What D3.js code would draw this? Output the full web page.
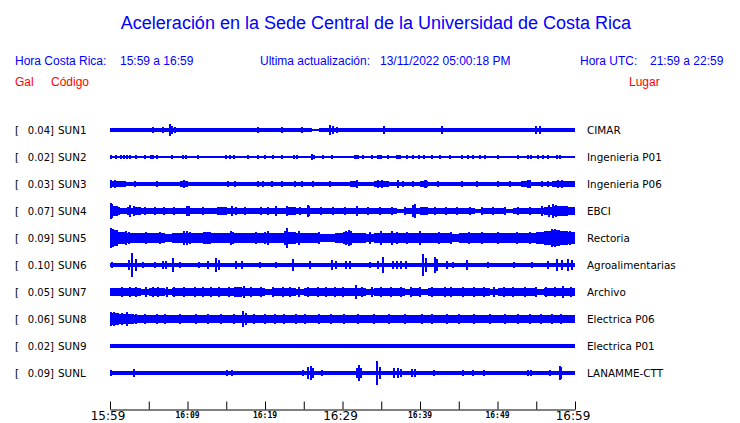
<!DOCTYPE html>
<html><head><meta charset="utf-8">
<script src="https://cdn.jsdelivr.net/npm/d3@7"></script>
<style>body{margin:0;background:#fff}svg{display:block}</style>
</head><body>
<script>
// ---------- DATA ----------
const codes  = ["SUN1","SUN2","SUN3","SUN4","SUN5","SUN6","SUN7","SUN8","SUN9","SUNL"];
const places = ["CIMAR","Ingenieria P01","Ingenieria P06","EBCI","Rectoria","Agroalimentarias","Archivo","Electrica P06","Electrica P01","LANAMME-CTT"];
const peaks  = ["0.04","0.02","0.03","0.07","0.09","0.10","0.05","0.06","0.02","0.09"];
const tickLabels = ["15:59","16:09","16:19","16:29","16:39","16:49","16:59"];

// per-minute envelope of the continuous band (Gal, half amplitude), 60 bins
const envSUN1 = [0.016,0.014,0.014,0.014,0.014,0.014,0.015,0.015,0.016,0.014,0.014,0.014,0.014,0.014,0.014,0.014,0.014,0.013,0.014,0.014,0.014,0.014,0.014,0.014,0.014,0.014,0.012,0.014,0.015,0.014,0.014,0.014,0.014,0.014,0.014,0.014,0.014,0.014,0.014,0.014,0.014,0.014,0.014,0.014,0.014,0.014,0.014,0.014,0.015,0.015,0.015,0.015,0.015,0.015,0.016,0.016,0.016,0.016,0.016,0.016];
const envSUN2 = [0.006,0.005,0.005,0.005,0.005,0.005,0.005,0.005,0.005,0.005,0.005,0.005,0.005,0.005,0.005,0.005,0.005,0.005,0.005,0.005,0.005,0.005,0.005,0.005,0.005,0.005,0.005,0.005,0.005,0.005,0.005,0.005,0.005,0.005,0.005,0.005,0.005,0.005,0.005,0.005,0.005,0.005,0.005,0.005,0.005,0.005,0.005,0.005,0.005,0.005,0.005,0.005,0.005,0.005,0.005,0.005,0.005,0.005,0.005,0.005];
const envSUN3 = [0.026,0.021,0.02,0.02,0.02,0.02,0.02,0.02,0.02,0.021,0.02,0.02,0.02,0.02,0.02,0.02,0.02,0.02,0.02,0.02,0.02,0.02,0.02,0.02,0.02,0.02,0.02,0.02,0.02,0.02,0.02,0.021,0.02,0.02,0.021,0.021,0.02,0.02,0.02,0.02,0.021,0.02,0.02,0.02,0.02,0.02,0.02,0.02,0.02,0.02,0.02,0.02,0.02,0.021,0.02,0.02,0.02,0.022,0.021,0.021];
const envSUN4 = [0.04,0.028,0.022,0.03,0.025,0.026,0.024,0.022,0.025,0.022,0.026,0.024,0.022,0.028,0.03,0.026,0.024,0.022,0.025,0.026,0.022,0.024,0.025,0.03,0.024,0.026,0.022,0.024,0.022,0.026,0.025,0.024,0.022,0.026,0.022,0.024,0.022,0.02,0.025,0.028,0.03,0.024,0.022,0.026,0.022,0.024,0.022,0.02,0.022,0.024,0.022,0.02,0.022,0.022,0.024,0.025,0.035,0.045,0.04,0.03];
const envSUN5 = [0.065,0.05,0.042,0.04,0.038,0.042,0.04,0.036,0.04,0.038,0.045,0.04,0.048,0.04,0.042,0.045,0.04,0.038,0.04,0.042,0.04,0.038,0.045,0.05,0.042,0.04,0.038,0.036,0.035,0.038,0.05,0.04,0.038,0.036,0.04,0.042,0.045,0.04,0.042,0.04,0.04,0.04,0.038,0.04,0.036,0.04,0.04,0.038,0.04,0.042,0.04,0.04,0.042,0.04,0.045,0.05,0.06,0.065,0.055,0.05];
const envSUN6 = [0.016,0.015,0.016,0.018,0.015,0.015,0.015,0.016,0.016,0.015,0.015,0.015,0.016,0.016,0.015,0.015,0.016,0.015,0.015,0.015,0.015,0.015,0.015,0.016,0.015,0.015,0.015,0.015,0.016,0.017,0.015,0.015,0.015,0.015,0.016,0.016,0.016,0.015,0.015,0.015,0.016,0.017,0.016,0.015,0.015,0.015,0.015,0.015,0.015,0.015,0.015,0.015,0.015,0.015,0.015,0.015,0.016,0.017,0.016,0.017];
const envSUN7 = [0.03,0.03,0.035,0.03,0.028,0.035,0.03,0.028,0.03,0.032,0.03,0.035,0.03,0.032,0.03,0.035,0.038,0.035,0.03,0.03,0.028,0.032,0.035,0.03,0.028,0.03,0.032,0.035,0.03,0.032,0.035,0.032,0.03,0.028,0.03,0.032,0.03,0.03,0.028,0.03,0.028,0.03,0.035,0.03,0.032,0.03,0.035,0.032,0.03,0.028,0.03,0.032,0.03,0.035,0.03,0.028,0.03,0.032,0.035,0.03];
const envSUN8 = [0.048,0.042,0.04,0.036,0.032,0.03,0.032,0.03,0.03,0.032,0.03,0.03,0.03,0.032,0.03,0.03,0.03,0.032,0.03,0.03,0.03,0.031,0.03,0.03,0.03,0.03,0.03,0.032,0.03,0.03,0.03,0.03,0.031,0.03,0.03,0.032,0.03,0.03,0.031,0.03,0.032,0.03,0.032,0.03,0.032,0.03,0.03,0.031,0.03,0.03,0.03,0.031,0.032,0.032,0.032,0.032,0.033,0.034,0.034,0.034];
const envSUN9 = [0.015,0.015,0.015,0.015,0.014,0.015,0.014,0.015,0.015,0.015,0.014,0.015,0.015,0.015,0.015,0.015,0.014,0.015,0.015,0.015,0.015,0.015,0.014,0.015,0.015,0.014,0.015,0.015,0.015,0.015,0.014,0.015,0.015,0.015,0.015,0.015,0.015,0.014,0.015,0.015,0.015,0.015,0.014,0.015,0.015,0.015,0.015,0.015,0.015,0.014,0.015,0.015,0.015,0.015,0.015,0.015,0.015,0.014,0.015,0.015];
const envSUNL = [0.015,0.014,0.014,0.014,0.014,0.014,0.014,0.014,0.014,0.014,0.014,0.014,0.014,0.014,0.014,0.014,0.014,0.014,0.014,0.014,0.014,0.014,0.014,0.014,0.014,0.015,0.015,0.014,0.014,0.014,0.014,0.014,0.015,0.014,0.015,0.014,0.014,0.015,0.014,0.015,0.014,0.014,0.014,0.014,0.014,0.014,0.014,0.014,0.014,0.014,0.014,0.014,0.014,0.014,0.014,0.014,0.014,0.014,0.015,0.015];

// bursts: [minute after 15:59, half amplitude in Gal]
const spkSUN1 = [[5.5,0.022],[6.2,0.02],[6.8,0.022],[7.2,0.02],[7.7,0.048],[8.0,0.032],[8.4,0.025],[11.4,0.02],[13.3,0.02],[15.6,0.02],[19.1,0.026],[22.2,0.026],[24.8,0.026],[28.4,0.045],[28.8,0.03],[29.3,0.026],[35.4,0.035],[42.8,0.035],[48.8,0.02],[49.7,0.02],[50.6,0.02],[54.2,0.02],[55.0,0.03],[55.5,0.03]];
const spkSUN2 = [[0.1,0.015],[0.8,0.015],[1.4,0.015],[1.8,0.015],[2.2,0.015],[2.6,0.015],[3.4,0.015],[4.5,0.015],[5.3,0.015],[5.5,0.015],[6.1,0.015],[8.0,0.015],[9.4,0.015],[9.8,0.015],[11.4,0.015],[15.0,0.015],[15.5,0.015],[16.0,0.015],[17.8,0.015],[19.1,0.015],[20.0,0.015],[21.0,0.015],[22.2,0.015],[23.7,0.015],[24.1,0.015],[26.1,0.025],[26.3,0.02],[27.5,0.015],[28.6,0.015],[31.6,0.02],[31.8,0.02],[32.0,0.02],[32.6,0.015],[33.8,0.015],[34.6,0.02],[34.8,0.02],[35.0,0.02],[35.9,0.015],[37.0,0.02],[37.2,0.02],[37.4,0.02],[38.3,0.015],[39.1,0.015],[39.9,0.015],[40.5,0.015],[41.5,0.015],[42.6,0.015],[43.9,0.015],[45.4,0.015],[46.2,0.015],[46.8,0.015],[47.7,0.015],[48.4,0.015],[50.1,0.015],[52.6,0.015],[53.9,0.02],[54.3,0.02],[55.2,0.015],[55.9,0.015],[56.5,0.015],[57.7,0.015],[58.1,0.015]];
const spkSUN3 = [[0.1,0.035],[0.6,0.03],[1.2,0.028],[3.2,0.026],[6.1,0.026],[9.5,0.03],[9.8,0.028],[15.2,0.026],[16.1,0.026],[19.1,0.026],[19.7,0.026],[20.9,0.026],[22.2,0.026],[23.9,0.026],[24.8,0.026],[26.2,0.026],[28.4,0.026],[31.9,0.032],[34.6,0.032],[35.1,0.03],[35.9,0.026],[37.1,0.03],[37.8,0.026],[39.1,0.026],[40.6,0.03],[40.8,0.03],[42.3,0.026],[45.4,0.026],[47.4,0.026],[50.1,0.026],[51.6,0.026],[53.9,0.03],[54.2,0.03],[55.7,0.026],[56.5,0.026],[57.8,0.035],[58.3,0.035]];
const spkSUN4 = [[0.1,0.07],[0.3,0.06],[0.6,0.045],[1.2,0.035],[2.3,0.035],[2.6,0.05],[3.1,0.04],[4.5,0.035],[5.8,0.035],[7.0,0.035],[8.3,0.035],[9.9,0.04],[10.2,0.038],[12.0,0.035],[13.9,0.035],[15.8,0.04],[16.2,0.035],[17.4,0.035],[19.5,0.035],[20.4,0.035],[21.4,0.038],[22.9,0.04],[24.5,0.035],[25.5,0.05],[25.7,0.04],[27.2,0.035],[28.8,0.035],[30.3,0.035],[31.9,0.04],[33.3,0.035],[34.8,0.035],[36.4,0.035],[38.1,0.035],[39.1,0.05],[39.4,0.058],[40.2,0.035],[41.9,0.035],[43.3,0.035],[44.8,0.035],[46.5,0.035],[48.0,0.035],[49.4,0.035],[51.0,0.035],[52.6,0.035],[54.2,0.035],[55.7,0.04],[56.7,0.05],[57.2,0.055],[57.6,0.05],[58.2,0.045],[59.0,0.04],[59.7,0.035]];
const spkSUN5 = [[0.1,0.08],[0.4,0.075],[0.8,0.065],[2.0,0.055],[2.5,0.05],[4.6,0.05],[6.5,0.05],[9.5,0.055],[9.9,0.06],[10.3,0.05],[12.8,0.05],[15.6,0.055],[15.9,0.05],[18.8,0.05],[20.0,0.05],[20.4,0.055],[22.6,0.06],[22.9,0.08],[24.4,0.055],[27.0,0.05],[30.5,0.058],[30.8,0.065],[31.1,0.055],[33.5,0.05],[35.0,0.055],[36.4,0.055],[37.0,0.05],[38.3,0.05],[40.0,0.055],[42.5,0.05],[44.0,0.05],[46.3,0.05],[48.0,0.05],[50.0,0.05],[52.5,0.05],[54.2,0.05],[56.2,0.06],[57.0,0.075],[57.4,0.072],[58.0,0.06],[59.3,0.055]];
const spkSUN6 = [[0.2,0.025],[1.2,0.02],[2.4,0.04],[2.9,0.1],[3.3,0.05],[4.2,0.025],[5.8,0.025],[6.9,0.035],[7.2,0.03],[8.1,0.058],[9.0,0.025],[11.5,0.025],[12.7,0.035],[13.7,0.058],[14.1,0.045],[16.3,0.035],[17.0,0.035],[19.4,0.025],[21.4,0.025],[23.6,0.05],[25.8,0.03],[28.7,0.045],[29.1,0.035],[30.5,0.03],[31.0,0.03],[33.5,0.025],[34.6,0.035],[35.2,0.065],[36.5,0.03],[37.0,0.035],[37.5,0.03],[38.2,0.03],[40.4,0.09],[40.8,0.06],[41.9,0.07],[42.2,0.05],[43.5,0.03],[44.2,0.025],[46.1,0.04],[48.8,0.025],[52.1,0.025],[54.4,0.025],[56.5,0.035],[57.7,0.05],[58.3,0.04],[59.1,0.05],[59.6,0.04]];
const spkSUN7 = [[0.3,0.035],[1.5,0.04],[2.6,0.045],[3.3,0.04],[4.6,0.04],[5.5,0.045],[6.2,0.04],[7.3,0.045],[8.2,0.04],[9.5,0.04],[11.0,0.045],[12.0,0.04],[13.0,0.045],[14.0,0.04],[15.3,0.045],[16.2,0.04],[17.3,0.05],[18.2,0.045],[19.5,0.04],[21.0,0.04],[22.3,0.045],[23.2,0.04],[24.4,0.045],[25.5,0.04],[26.8,0.045],[27.9,0.04],[29.0,0.045],[30.0,0.04],[31.7,0.055],[32.5,0.04],[33.8,0.045],[35.0,0.04],[36.3,0.04],[37.5,0.045],[38.8,0.04],[40.0,0.045],[41.5,0.04],[43.2,0.045],[44.0,0.04],[45.5,0.045],[47.0,0.04],[48.2,0.045],[49.5,0.04],[50.8,0.045],[52.0,0.04],[53.5,0.045],[55.0,0.04],[56.2,0.045],[57.4,0.045],[58.5,0.05],[59.5,0.045]];
const spkSUN8 = [[0.1,0.06],[0.5,0.055],[1.0,0.05],[1.6,0.05],[2.2,0.055],[3.4,0.045],[4.5,0.04],[6.0,0.04],[7.1,0.045],[9.0,0.04],[11.1,0.04],[12.6,0.04],[14.3,0.04],[16.0,0.04],[17.2,0.065],[17.5,0.05],[18.6,0.04],[20.0,0.04],[21.3,0.045],[22.5,0.04],[24.0,0.04],[25.2,0.04],[27.0,0.04],[28.5,0.04],[30.2,0.04],[32.0,0.04],[34.0,0.04],[36.0,0.045],[38.0,0.04],[40.2,0.04],[41.5,0.045],[43.5,0.045],[45.0,0.04],[47.0,0.04],[49.0,0.04],[51.0,0.04],[52.6,0.045],[54.2,0.045],[55.6,0.04],[57.0,0.045],[58.2,0.04]];
const spkSUN9 = [[4.0,0.018],[6.5,0.018],[8.0,0.018],[10.0,0.018],[13.0,0.018],[15.0,0.018],[18.0,0.018],[19.5,0.018],[23.0,0.018],[26.0,0.018],[28.0,0.018],[31.0,0.018],[33.0,0.018],[35.0,0.018],[36.2,0.018],[39.0,0.018],[41.0,0.018],[44.5,0.018],[47.0,0.018],[50.0,0.018],[53.0,0.018],[56.0,0.018],[58.5,0.018]];
const spkSUNL = [[0.1,0.025],[1.7,0.02],[3.1,0.035],[6.1,0.02],[8.1,0.02],[8.8,0.02],[9.6,0.02],[11.0,0.02],[12.3,0.02],[13.2,0.02],[15.1,0.025],[15.8,0.025],[20.3,0.02],[20.9,0.02],[21.4,0.02],[24.9,0.025],[25.6,0.05],[25.9,0.06],[26.2,0.045],[27.4,0.025],[30.1,0.02],[31.9,0.045],[32.1,0.065],[32.4,0.04],[34.5,0.1],[34.8,0.05],[36.7,0.04],[37.1,0.045],[37.5,0.035],[39.0,0.035],[39.4,0.03],[41.8,0.025],[44.2,0.02],[45.6,0.025],[46.8,0.025],[47.5,0.02],[48.2,0.025],[49.3,0.02],[52.6,0.02],[53.9,0.025],[54.3,0.025],[55.9,0.02],[56.8,0.025],[58.0,0.06],[58.2,0.05]];

const envs  = [envSUN1,envSUN2,envSUN3,envSUN4,envSUN5,envSUN6,envSUN7,envSUN8,envSUN9,envSUNL];
const spks  = [spkSUN1,spkSUN2,spkSUN3,spkSUN4,spkSUN5,spkSUN6,spkSUN7,spkSUN8,spkSUN9,spkSUNL];

// ---------- DRAW ----------
const W = 740, H = 423;
const blue = "#0000ff", red = "#ff0000";
const svg = d3.select("body").append("svg").attr("width", W).attr("height", H);

const x = d3.scaleLinear().domain([0, 60]).range([110, 575]);
const y = d3.scalePoint().domain(codes).range([130, 373]);
const a = d3.scaleLinear().domain([0, 0.1]).range([0, 12]);

const sans = "'Liberation Sans', Arial, Helvetica, sans-serif";
const dv = "'DejaVu Sans', sans-serif";

svg.append("text").attr("x", 376).attr("y", 29).attr("text-anchor", "middle")
  .style("font-family", sans).style("font-size", "18px").attr("fill", blue)
  .text("Aceleración en la Sede Central de la Universidad de Costa Rica");

const hdr = [["Hora Costa Rica:",15],["15:59 a 16:59",120],["Ultima actualización:",260],["13/11/2022 05:00:18 PM",380],["Hora UTC:",580],["21:59 a 22:59",650]];
svg.selectAll("text.hdr").data(hdr).join("text").attr("class","hdr")
  .attr("x", d => d[1]).attr("y", 65).style("font-family", sans).style("font-size", "12px")
  .attr("fill", blue).text(d => d[0]);
const red1 = [["Gal",15],["Código",51],["Lugar",629]];
svg.selectAll("text.red").data(red1).join("text").attr("class","red")
  .attr("x", d => d[1]).attr("y", 86).style("font-family", sans).style("font-size", "12px")
  .attr("fill", red).text(d => d[0]);

const rows = svg.selectAll("g.row").data(codes).join("g").attr("class","row");
rows.append("text").attr("x", 15).attr("y", d => y(d) + 4).style("font-family", dv).style("font-size","10.5px").text("[");
rows.append("text").attr("x", 54).attr("y", d => y(d) + 4).attr("text-anchor","end").style("font-family", dv).style("font-size","10px").text((d,i) => peaks[i] + "]");
rows.append("text").attr("x", 58).attr("y", d => y(d) + 4).style("font-family", dv).style("font-size","10.4px").text(d => d);
rows.append("text").attr("x", 587).attr("y", d => y(d) + 4).style("font-family", dv).style("font-size","10.4px").text((d,i) => places[i]);

rows.each(function(code, i) {
  const g = d3.select(this);
  const cy = y(code);
  g.selectAll("rect.env").data(envs[i]).join("rect").attr("class","env")
    .attr("x", (v, k) => x(k)).attr("width", (v, k) => x(k + 1) - x(k) + 0.3)
    .attr("y", v => cy - a(v)).attr("height", v => 2 * a(v))
    .attr("fill", blue).attr("shape-rendering", "crispEdges");
  g.selectAll("rect.spk").data(spks[i]).join("rect").attr("class","spk")
    .attr("x", d => x(d[0]) - 1).attr("width", 2)
    .attr("y", d => cy - a(d[1])).attr("height", d => 2 * a(d[1]))
    .attr("fill", blue).attr("shape-rendering", "crispEdges");
});

// time axis
const axis = d3.axisTop(x).tickValues(d3.range(0, 61, 5)).tickSize(8).tickSizeOuter(0).tickFormat("");
const ax = svg.append("g").attr("transform", "translate(0,409.5)").call(axis);
ax.select(".domain").attr("stroke", "#000");
ax.selectAll(".tick line").attr("stroke", "#000");

svg.selectAll("text.tl").data(tickLabels).join("text").attr("class","tl")
  .attr("x", (d, k) => x(k * 10) - ((k % 3 === 0) ? 2 : 0)).attr("y", (d, k) => (k % 3 === 0) ? 420 : 418)
  .attr("text-anchor", "middle")
  .style("font-family", (d, k) => (k % 3 === 0) ? dv : "'DejaVu Sans Mono', monospace")
  .style("font-size", (d, k) => (k % 3 === 0) ? "12px" : "8px")
  .style("font-weight", (d, k) => (k % 3 === 0) ? "normal" : "bold")
  .text(d => d);
</script>
</body></html>
